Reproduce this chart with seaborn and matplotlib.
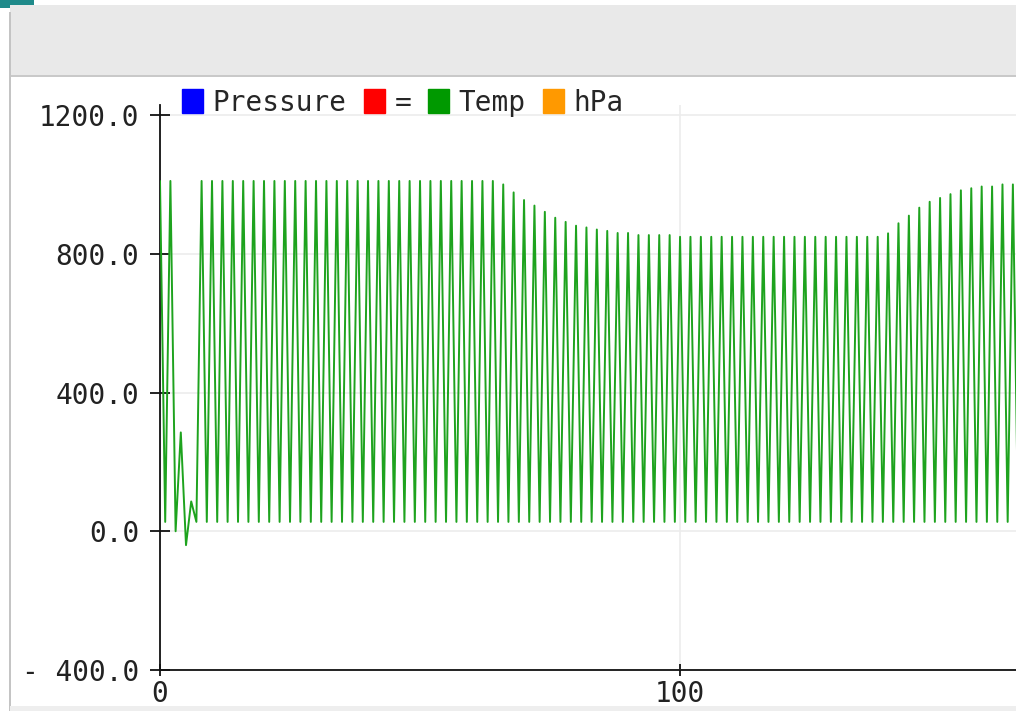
"""
plot.py

Serial plotter screenshot: pressure (hPa) / temperature readings
interleaved on one trace, redrawn with seaborn.
"""

import pandas as pd
import numpy as np
import matplotlib
matplotlib.use("Agg")
import matplotlib.pyplot as plt
from matplotlib.patches import Patch, Rectangle
import seaborn as sns

#data
#pressure readings land on the even sample indices 0, 2, ..., 164
pressure_hpa = [
    1010, 1010, 285, 86,
    1010, 1010, 1010, 1010, 1010, 1010, 1010, 1010, 1010, 1010,
    1010, 1010, 1010, 1010, 1010, 1010, 1010, 1010, 1010, 1010,
    1010, 1010, 1010, 1010, 1010, 1010, 1010, 1010, 1010,
    1000, 977, 955, 939, 921, 904, 892, 881, 876, 870,
    866, 860, 860, 854, 854, 854, 854,
    849, 849, 849, 849, 849, 849, 849, 849, 849, 849,
    849, 849, 849, 849, 849, 849, 849, 849, 849, 849,
    859, 888, 910, 933, 950, 961, 972, 983, 989, 994,
    994, 1000, 1000,
]
#temperature readings land on the odd sample indices 1, 3, ..., 165
temp_c = [
    27, 0, -40, 27,
    27, 27, 27, 27, 27, 27, 27, 27, 27, 27,
    27, 27, 27, 27, 27, 27, 27, 27, 27, 27,
    27, 27, 27, 27, 27, 27, 27, 27, 27, 27,
    27, 27, 27, 27, 27, 27, 27, 27, 27, 27,
    27, 27, 27, 27, 27, 27, 27, 27, 27, 27,
    27, 27, 27, 27, 27, 27, 27, 27, 27, 27,
    27, 27, 27, 27, 27, 27, 27, 27, 27, 27,
    27, 27, 27, 27, 27, 27, 27, 27, 27,
]

legend_labels = ["Pressure", "=", "Temp", "hPa"]
legend_colors = ["#0000ff", "#ff0000", "#009900", "#ff9900"]

y_ticks = [-400, 0, 400, 800, 1200]
y_tick_labels = ["- 400.0", "0.0", "400.0", "800.0", "1200.0"]
x_ticks = [0, 100]
x_tick_labels = ["0", "100"]

#interleave into one trace (sample index on x)
values = np.empty(len(pressure_hpa) + len(temp_c))
values[0::2] = pressure_hpa
values[1::2] = temp_c
df = pd.DataFrame({"sample": np.arange(len(values)), "value": values})

#figure / style
sns.set_theme(style="white")
plt.rcParams["font.family"] = ["DejaVu Sans Mono", "DejaVu Sans"]
FONT_SIZE = 20

W, H = 1016, 711
fig = plt.figure(figsize=(W / 100, H / 100), dpi=100)
fig.patch.set_facecolor("white")

def px_rect(x0, y0, x1, y1, color):
    #rectangle in screen pixels (y from top)
    fig.patches.append(Rectangle((x0 / W, 1 - y1 / H), (x1 - x0) / W, (y1 - y0) / H,
                                 transform=fig.transFigure, color=color, lw=0, zorder=0))

#window chrome
px_rect(0, 0, 34, 8, "#1f8a8a")
px_rect(10, 5, W, 75, "#e9e9e9")
px_rect(10, 75, W, 77, "#c9c9c9")
px_rect(9, 12, 11, H, "#c4c4c4")
px_rect(10, 706, W, 711, "#eeeeee")

#plot area: y axis at x=160, from y=105 to y=670
ax = fig.add_axes([160 / W, 1 - 670 / H, (W - 160) / W, (670 - 105) / H])
ax.set_facecolor("none")

sns.lineplot(data=df, x="sample", y="value", color="#1ea31e", linewidth=1.4,
             ax=ax, legend=False, zorder=3)

ax.set_xlim(0, 164.6)
ax.set_ylim(-400, 1229)
ax.set_yticks(y_ticks)
ax.set_yticklabels(y_tick_labels)
ax.set_xticks(x_ticks)
ax.set_xticklabels(x_tick_labels)
ax.set_xlabel("")
ax.set_ylabel("")

ax.grid(True, color="#ececec", linewidth=1.2, zorder=0)
for side in ["top", "right"]:
    ax.spines[side].set_visible(False)
for side in ["left", "bottom"]:
    ax.spines[side].set_color("#111111")
    ax.spines[side].set_linewidth(1.3)

ax.tick_params(axis="y", direction="inout", length=14, width=1.3, color="#111111",
               pad=8, labelsize=FONT_SIZE, labelcolor="#222222", left=True)
ax.tick_params(axis="x", direction="inout", length=9, width=1.3, color="#111111",
               pad=3, labelsize=FONT_SIZE, labelcolor="#222222", bottom=True)

#legend row along the top
handles = [Patch(facecolor=c, edgecolor=c) for c in legend_colors]
fig.legend(handles, legend_labels, loc="lower left",
           bbox_to_anchor=(182 / W, 1 - 117 / H), ncol=4, frameon=False,
           handlelength=0.75, handleheight=0.95, handletextpad=0.35,
           columnspacing=0.62, borderpad=0, borderaxespad=0,
           prop={"family": "DejaVu Sans Mono", "size": FONT_SIZE})

fig.savefig("out.png", dpi=100)
